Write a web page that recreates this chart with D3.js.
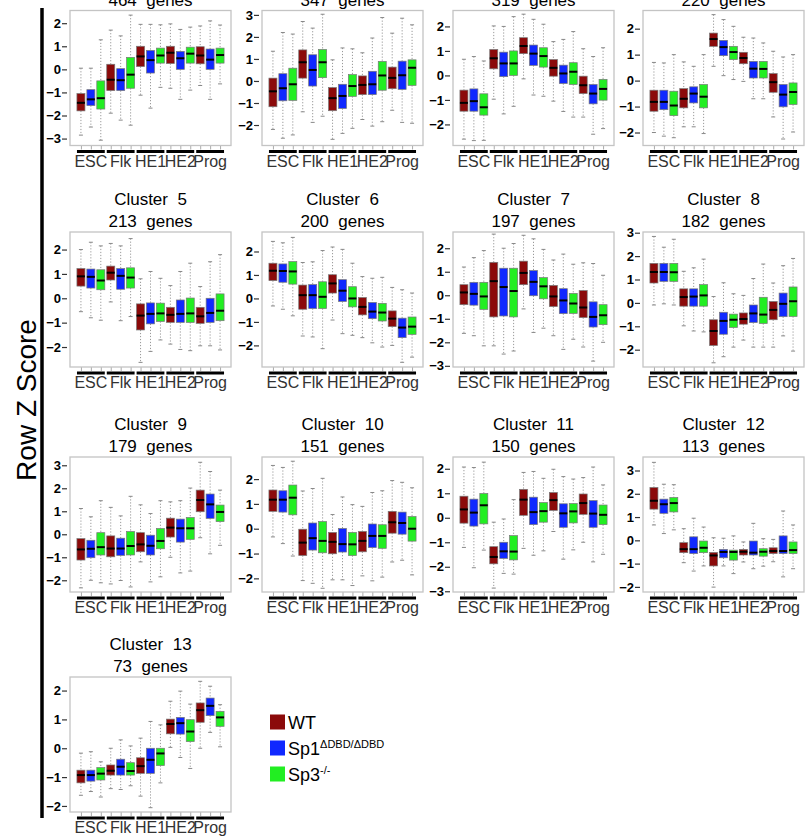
<!DOCTYPE html>
<html>
<head>
<meta charset="utf-8">
<script src="https://cdn.jsdelivr.net/npm/d3@7"></script>
<style>
  body { margin: 0; background: #fff; }
  text { font-family: "Liberation Sans", Arial, sans-serif; }
</style>
</head>
<body>
<script>
const groups = ["ESC", "Flk", "HE1", "HE2", "Prog"];
const genotypes = ["WT", "Sp1", "Sp3"];
const genoColors = ["#8b0a0a", "#1028ff", "#22ee22"];

const clusterNames = ["Cluster  1", "Cluster  2", "Cluster  3", "Cluster  4", "Cluster  5", "Cluster  6",
    "Cluster  7", "Cluster  8", "Cluster  9", "Cluster  10", "Cluster  11", "Cluster  12", "Cluster  13"];
const geneCounts = [464, 347, 319, 220, 213, 200, 197, 182, 179, 151, 150, 113, 73];

// y limits of each panel [low, high]
const yLimits = [
    [-3.3, 2.55], [-2.93, 3.2], [-2.86, 2.65], [-2.5, 2.7],
    [-2.82, 2.72], [-2.92, 2.83], [-3.05, 2.69], [-2.74, 3.03],
    [-2.51, 3.36], [-2.55, 2.89], [-3.03, 2.48], [-2.22, 3.58],
    [-2.21, 2.47]
];

// each box: [whisker low, q1, median, q3, whisker high]
// order: ESC WT/Sp1/Sp3, Flk ..., HE1 ..., HE2 ..., Prog ...
const cluster1 = [
    [-2.85, -1.8, -1.45, -1.05, 0.05], [-2.5, -1.57, -1.3, -0.88, 0.05], [-3.07, -1.72, -1.25, -0.5, 1.28],
    [-1.9, -0.92, -0.45, 0.22, 1.7], [-2.2, -0.92, -0.47, 0.03, 1.45], [-2.42, -0.82, -0.23, 0.52, 2.35],
    [-1.12, 0.12, 0.56, 1.0, 1.95], [-1.68, -0.16, 0.4, 0.82, 1.95], [-0.78, 0.27, 0.6, 0.92, 1.93],
    [-0.82, 0.25, 0.72, 1.0, 1.97], [-1.3, 0.0, 0.48, 0.78, 1.73], [-0.9, 0.27, 0.68, 0.96, 1.83],
    [-0.7, 0.24, 0.6, 0.98, 1.88], [-1.3, 0.0, 0.42, 0.88, 2.1], [-0.63, 0.27, 0.62, 0.92, 1.92]
];
const cluster2 = [
    [-2.2, -1.17, -0.47, 0.13, 1.35], [-2.6, -0.9, -0.33, 0.33, 2.2], [-2.45, -0.88, -0.15, 0.58, 2.13],
    [-1.4, 0.13, 0.85, 1.41, 2.7], [-1.88, -0.23, 0.5, 1.19, 2.4], [-1.6, 0.15, 0.85, 1.43, 3.03],
    [-2.65, -1.35, -0.78, -0.3, 0.96], [-2.38, -1.25, -0.68, -0.15, 1.5], [-2.15, -0.7, -0.23, 0.29, 1.46],
    [-1.75, -0.62, -0.18, 0.23, 1.28], [-2.05, -0.62, -0.15, 0.44, 1.95], [-1.85, -0.42, 0.25, 0.89, 2.88],
    [-1.33, -0.35, 0.14, 0.63, 2.17], [-1.88, -0.38, 0.26, 0.9, 2.85], [-1.92, -0.2, 0.6, 0.96, 2.55]
];
const cluster3 = [
    [-2.6, -1.46, -1.12, -0.6, 0.66], [-2.66, -1.46, -1.05, -0.55, 0.77], [-2.65, -1.62, -1.3, -0.75, 0.59],
    [-0.97, 0.27, 0.7, 1.06, 2.02], [-1.57, -0.05, 0.49, 0.95, 2.0], [-1.26, 0.0, 0.49, 1.0, 2.4],
    [-0.14, 0.89, 1.2, 1.54, 2.5], [-0.8, 0.41, 0.89, 1.24, 2.29], [-0.85, 0.34, 0.79, 1.13, 2.09],
    [-1.05, -0.03, 0.31, 0.65, 1.38], [-1.47, -0.33, 0.08, 0.42, 1.47], [-1.7, -0.37, 0.15, 0.52, 1.79],
    [-1.7, -0.74, -0.4, -0.03, 1.09], [-2.4, -1.16, -0.74, -0.37, 0.77], [-2.17, -1.01, -0.55, -0.16, 1.13]
];
const cluster4 = [
    [-2.0, -1.18, -0.82, -0.37, 0.7], [-2.14, -1.12, -0.82, -0.37, 0.68], [-2.2, -1.35, -0.96, -0.41, 1.0],
    [-1.78, -1.05, -0.7, -0.31, 0.72], [-1.78, -0.86, -0.5, -0.24, 0.55], [-2.04, -1.05, -0.62, -0.15, 1.0],
    [0.55, 1.32, 1.6, 1.83, 2.54], [0.19, 0.96, 1.29, 1.55, 2.35], [0.04, 0.81, 1.1, 1.32, 2.09],
    [-0.03, 0.65, 0.87, 1.09, 1.67], [-0.7, 0.1, 0.46, 0.74, 1.64], [-0.7, 0.1, 0.45, 0.74, 1.45],
    [-1.4, -0.45, -0.06, 0.27, 1.13], [-2.25, -1.01, -0.54, -0.15, 0.91], [-1.98, -0.92, -0.44, -0.09, 1.0]
];
const cluster5 = [
    [-0.55, 0.5, 0.9, 1.22, 2.0], [-0.8, 0.42, 0.88, 1.2, 2.3], [-0.9, 0.35, 0.73, 1.17, 2.15],
    [-0.15, 0.75, 1.05, 1.32, 2.25], [-0.92, 0.37, 0.92, 1.22, 2.15], [-0.75, 0.42, 0.85, 1.25, 2.45],
    [-2.63, -1.3, -0.71, -0.23, 0.8], [-2.18, -1.05, -0.64, -0.19, 1.1], [-1.71, -0.95, -0.62, -0.2, 0.82],
    [-1.88, -0.99, -0.68, -0.37, 0.52], [-2.1, -0.99, -0.64, -0.07, 1.1], [-2.15, -0.99, -0.62, 0.01, 1.44],
    [-1.95, -1.03, -0.74, -0.37, 0.48], [-1.95, -0.99, -0.6, 0.0, 1.5], [-2.12, -0.92, -0.51, 0.18, 1.79]
];
const cluster6 = [
    [-0.32, 0.76, 1.18, 1.5, 2.43], [-0.46, 0.69, 1.17, 1.47, 2.37], [-0.74, 0.61, 1.15, 1.57, 2.6],
    [-1.6, -0.46, 0.14, 0.57, 1.53], [-1.64, -0.43, 0.14, 0.59, 1.56], [-2.14, -0.43, 0.07, 0.71, 2.04],
    [-0.92, 0.23, 0.64, 1.01, 2.19], [-1.5, -0.13, 0.33, 0.8, 2.09], [-1.57, -0.36, 0.0, 0.5, 1.5],
    [-1.67, -0.7, -0.36, 0.04, 0.93], [-1.89, -0.86, -0.56, -0.17, 0.86], [-2.07, -0.96, -0.6, -0.21, 0.9],
    [-2.0, -1.2, -0.86, -0.53, 0.47], [-2.72, -1.67, -1.24, -0.84, 0.37], [-2.5, -1.53, -1.2, -0.79, 0.23]
];
const cluster7 = [
    [-1.62, -0.4, 0.12, 0.45, 1.2], [-1.72, -0.42, 0.06, 0.55, 1.6], [-2.15, -0.6, -0.05, 0.55, 1.9],
    [-2.15, -0.92, 0.6, 1.4, 2.6], [-2.5, -0.88, 0.35, 1.15, 2.0], [-2.37, -0.92, 0.18, 1.15, 2.2],
    [-0.58, 0.45, 0.95, 1.45, 2.55], [-1.58, -0.02, 0.57, 1.05, 2.4], [-1.4, -0.15, 0.38, 0.75, 1.95],
    [-1.72, -0.48, -0.05, 0.42, 1.5], [-2.3, -0.78, -0.22, 0.28, 1.75], [-1.87, -0.77, -0.35, 0.08, 1.32],
    [-2.2, -0.95, -0.52, 0.2, 1.38], [-2.8, -1.35, -0.92, -0.28, 1.35], [-2.0, -1.25, -0.85, -0.4, 0.85]
];
const cluster8 = [
    [-0.09, 0.85, 1.32, 1.69, 2.84], [-0.04, 0.92, 1.32, 1.69, 2.38], [-0.09, 0.92, 1.31, 1.69, 2.72],
    [-0.98, -0.14, 0.25, 0.6, 1.35], [-1.2, -0.14, 0.27, 0.6, 1.5], [-1.24, -0.14, 0.32, 0.78, 1.87],
    [-2.56, -1.82, -1.2, -0.72, 0.27], [-2.3, -1.34, -0.77, -0.4, 0.86], [-1.89, -1.05, -0.72, -0.48, 0.39],
    [-1.59, -0.91, -0.69, -0.43, 0.32], [-1.89, -0.84, -0.45, -0.09, 1.04], [-1.89, -0.88, -0.5, 0.24, 1.66],
    [-1.89, -0.72, -0.3, 0.06, 0.85], [-1.41, -0.59, -0.04, 0.42, 1.59], [-2.06, -0.58, 0.07, 0.68, 1.9]
];
const cluster9 = [
    [-2.33, -1.12, -0.66, -0.19, 1.12], [-2.0, -1.02, -0.63, -0.26, 0.76], [-2.11, -0.9, -0.56, 0.07, 1.46],
    [-2.16, -0.98, -0.62, -0.07, 1.17], [-2.01, -0.92, -0.62, -0.17, 0.8], [-2.29, -0.9, -0.51, 0.12, 1.65],
    [-1.2, -0.76, -0.44, 0.07, 1.28], [-2.07, -0.9, -0.5, -0.04, 0.9], [-1.85, -0.63, -0.29, 0.25, 1.46],
    [-1.0, -0.12, 0.29, 0.7, 1.41], [-1.68, -0.34, 0.26, 0.66, 1.46], [-1.6, -0.22, 0.26, 0.73, 2.01],
    [-0.15, 0.98, 1.49, 1.92, 3.13], [-0.85, 0.69, 1.3, 1.75, 2.73], [-0.48, 0.55, 0.97, 1.27, 1.92]
];
const cluster10 = [
    [-0.33, 0.7, 1.17, 1.56, 2.55], [-0.6, 0.67, 1.17, 1.53, 2.47], [-1.1, 0.56, 1.25, 1.76, 2.72],
    [-2.09, -1.08, -0.56, -0.02, 1.52], [-2.2, -0.86, -0.38, 0.23, 1.62], [-2.4, -0.97, -0.49, 0.29, 2.03],
    [-2.06, -1.01, -0.53, -0.15, 0.57], [-2.06, -0.94, -0.62, 0.01, 1.28], [-2.29, -1.08, -0.63, -0.15, 0.97],
    [-1.9, -0.93, -0.49, -0.11, 0.9], [-2.1, -0.76, -0.29, 0.19, 1.46], [-1.95, -0.79, -0.29, 0.16, 1.53],
    [-1.34, -0.18, 0.26, 0.7, 1.94], [-1.27, -0.22, 0.23, 0.67, 1.87], [-1.86, -0.5, 0.0, 0.49, 1.65]
];
const cluster11 = [
    [-1.21, -0.22, 0.34, 0.88, 2.07], [-2.04, -0.34, 0.21, 0.76, 2.05], [-1.32, -0.25, 0.51, 0.99, 2.27],
    [-2.87, -1.88, -1.6, -1.18, -0.18], [-2.27, -1.66, -1.37, -1.0, -0.05], [-2.3, -1.72, -1.38, -0.73, 0.74],
    [-1.25, 0.1, 0.74, 1.16, 1.85], [-1.53, -0.28, 0.23, 0.84, 1.89], [-1.35, -0.18, 0.27, 0.62, 1.61],
    [-0.56, 0.3, 0.72, 1.03, 1.98], [-1.69, -0.39, 0.18, 0.57, 1.68], [-1.31, -0.21, 0.26, 0.58, 1.58],
    [-1.0, 0.14, 0.6, 0.97, 1.64], [-1.8, -0.39, 0.17, 0.7, 2.07], [-1.49, -0.28, 0.12, 0.52, 1.34]
];
const cluster12 = [
    [0.66, 1.34, 1.7, 2.27, 3.35], [0.29, 1.16, 1.55, 1.77, 2.41], [0.45, 1.22, 1.6, 1.84, 2.39],
    [-0.96, -0.53, -0.38, -0.1, 0.5], [-1.32, -0.57, -0.38, 0.15, 0.95], [-1.1, -0.53, -0.32, -0.03, 0.57],
    [-2.01, -1.1, -0.65, -0.52, 0.11], [-1.1, -0.75, -0.5, -0.39, 0.09], [-1.43, -0.85, -0.5, -0.42, 0.19],
    [-0.93, -0.63, -0.49, -0.39, -0.07], [-1.22, -0.63, -0.53, -0.03, 0.73], [-1.11, -0.68, -0.49, -0.36, 0.07],
    [-0.92, -0.57, -0.46, -0.32, 0.04], [-1.57, -0.57, -0.46, 0.19, 1.26], [-1.22, -0.57, -0.42, -0.07, 0.66]
];
const cluster13 = [
    [-1.63, -1.2, -0.93, -0.76, -0.17], [-1.5, -1.14, -0.93, -0.76, -0.12], [-1.69, -1.1, -0.88, -0.67, -0.47],
    [-1.4, -0.93, -0.78, -0.58, 0.0], [-1.43, -0.93, -0.64, -0.38, 0.29], [-1.3, -0.93, -0.79, -0.5, 0.08],
    [-1.66, -0.87, -0.62, -0.33, 0.35], [-2.06, -0.87, -0.4, 0.0, 0.93], [-1.2, -0.6, -0.18, 0.0, 0.81],
    [0.03, 0.5, 0.84, 1.01, 1.63], [-0.32, 0.49, 0.87, 1.07, 1.98], [-0.7, 0.23, 0.58, 0.99, 1.53],
    [0.0, 0.9, 1.32, 1.57, 2.32], [0.55, 1.13, 1.47, 1.74, 2.15], [0.05, 0.76, 1.07, 1.28, 1.51]
];
const clusters = [cluster1, cluster2, cluster3, cluster4, cluster5, cluster6, cluster7,
    cluster8, cluster9, cluster10, cluster11, cluster12, cluster13];

const width = 811;
const height = 838;
const colX = [70, 262, 453, 643];
const rowY = [10.5, 232, 457, 677];
const panelW = 161;
const panelH = 135;
const boxW = 8;

const svg = d3.select("body")
    .append("svg")
    .attr("width", width)
    .attr("height", height);

clusters.forEach((stats, i) => {
    const col = i % 4;
    const row = Math.floor(i / 4);
    const g = svg.append("g")
        .attr("transform", "translate(" + colX[col] + "," + rowY[row] + ")");

    const x = d3.scaleLinear().domain([-0.1, 16.1]).range([0, panelW]);
    const y = d3.scaleLinear().domain(yLimits[i]).range([panelH, 0]);

    // titles
    g.append("text")
        .attr("x", panelW / 2)
        .attr("y", -27)
        .attr("text-anchor", "middle")
        .style("font-size", "17px")
        .style("white-space", "pre")
        .text(clusterNames[i]);
    g.append("text")
        .attr("x", panelW / 2)
        .attr("y", -5)
        .attr("text-anchor", "middle")
        .style("font-size", "17px")
        .style("white-space", "pre")
        .text(geneCounts[i] + "  genes");

    // y axis
    const lo = Math.ceil(yLimits[i][0]);
    const hi = Math.floor(yLimits[i][1]);
    const yAxis = g.append("g")
        .attr("transform", "translate(-3,0)")
        .call(d3.axisLeft(y).tickValues(d3.range(lo, hi + 1)).tickSize(5).tickPadding(1).tickFormat(d3.format("d")));
    yAxis.select(".domain").remove();
    yAxis.selectAll("line").attr("stroke", "#333").attr("stroke-width", 1.2);
    yAxis.selectAll("text")
        .style("font-family", "'Liberation Sans', Arial, sans-serif")
        .style("font-size", "13px")
        .style("font-weight", "bold")
        .attr("fill", "#000");

    // x ticks
    const xAxis = g.append("g")
        .attr("transform", "translate(0," + panelH + ")")
        .call(d3.axisBottom(x).tickValues(d3.range(1, 16)).tickSize(4).tickFormat(""));
    xAxis.select(".domain").remove();
    xAxis.selectAll("line").attr("stroke", "#aaa");

    // frame
    g.append("rect")
        .attr("width", panelW)
        .attr("height", panelH)
        .attr("fill", "none")
        .attr("stroke", "#c4c4c4")
        .attr("stroke-width", 1.3);

    const boxes = g.selectAll(".box")
        .data(stats)
        .enter()
        .append("g")
        .attr("class", "box")
        .attr("transform", (d, j) => "translate(" + x(j + 1) + ",0)");

    // whiskers
    boxes.append("line")
        .attr("y1", d => y(d[4])).attr("y2", d => y(d[3]))
        .attr("stroke", "#999").attr("stroke-dasharray", "1.2,1.8");
    boxes.append("line")
        .attr("y1", d => y(d[1])).attr("y2", d => y(d[0]))
        .attr("stroke", "#999").attr("stroke-dasharray", "1.2,1.8");
    boxes.append("line")
        .attr("x1", -2).attr("x2", 2)
        .attr("y1", d => y(d[4])).attr("y2", d => y(d[4]))
        .attr("stroke", "#888");
    boxes.append("line")
        .attr("x1", -2).attr("x2", 2)
        .attr("y1", d => y(d[0])).attr("y2", d => y(d[0]))
        .attr("stroke", "#888");

    boxes.append("rect")
        .attr("x", -boxW / 2)
        .attr("width", boxW)
        .attr("y", d => y(d[3]))
        .attr("height", d => y(d[1]) - y(d[3]))
        .attr("fill", (d, j) => genoColors[j % 3])
        .attr("stroke", "#777")
        .attr("stroke-width", 0.7);

    boxes.append("line")
        .attr("x1", -boxW / 2).attr("x2", boxW / 2)
        .attr("y1", d => y(d[2])).attr("y2", d => y(d[2]))
        .attr("stroke", "#000")
        .attr("stroke-width", 2);

    // group bars and labels
    groups.forEach((name, k) => {
        g.append("line")
            .attr("x1", x(k * 3 + 0.5) + 1)
            .attr("x2", x(k * 3 + 3.5) - 1)
            .attr("y1", panelH + 6)
            .attr("y2", panelH + 6)
            .attr("stroke", "#000")
            .attr("stroke-width", 3);
        g.append("text")
            .attr("x", x(k * 3 + 2))
            .attr("y", panelH + 21)
            .attr("text-anchor", "middle")
            .style("font-size", "16px")
            .attr("fill", "#333")
            .text(name);
    });
});

// shared y label
svg.append("line")
    .attr("x1", 42).attr("x2", 42)
    .attr("y1", 8).attr("y2", 818)
    .attr("stroke", "#000")
    .attr("stroke-width", 3.5);

svg.append("text")
    .attr("transform", "translate(36,400) rotate(-90)")
    .attr("text-anchor", "middle")
    .style("font-size", "28px")
    .text("Row Z Score");

// legend
const legendLabels = [["WT", ""], ["Sp1", "\u0394DBD/\u0394DBD"], ["Sp3", "-/-"]];
const legend = svg.append("g").attr("transform", "translate(270,722)");

legend.selectAll("rect")
    .data(legendLabels)
    .enter()
    .append("rect")
    .attr("x", 0)
    .attr("y", (d, i) => i * 26 - 7.5)
    .attr("width", 15)
    .attr("height", 15)
    .attr("fill", (d, i) => genoColors[i]);

const ltext = legend.selectAll("text")
    .data(legendLabels)
    .enter()
    .append("text")
    .attr("x", 18)
    .attr("y", (d, i) => i * 26 + 7)
    .style("font-size", "18px");
ltext.append("tspan").text(d => d[0]);
ltext.append("tspan")
    .attr("dy", -7)
    .style("font-size", "11px")
    .text(d => d[1]);
</script>
</body>
</html>
